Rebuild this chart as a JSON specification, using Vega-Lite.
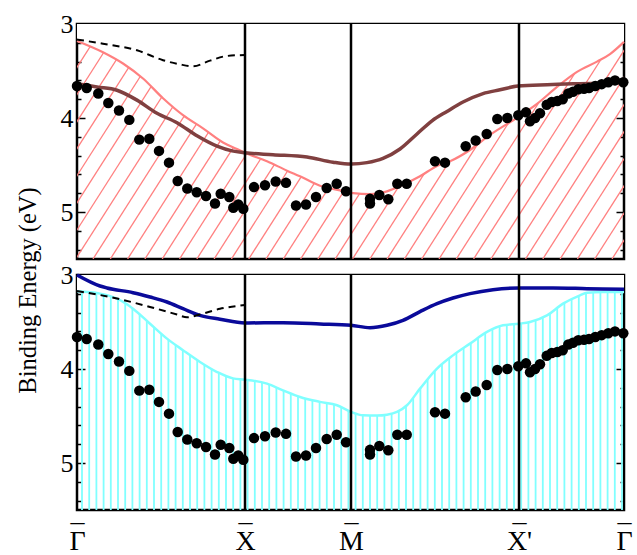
{
  "$schema": "https://vega.github.io/schema/vega-lite/v6.json",
  "background": "white",
  "padding": {"left": 13, "top": 9, "right": 5, "bottom": 0},
  "bounds": "flush",
  "spacing": 16,
  "config": {
    "font": "Liberation Serif",
    "view": {"stroke": "black", "strokeWidth": 2.5},
    "axis": {"labelFont": "Liberation Serif", "titleFont": "Liberation Serif", "labelColor": "black", "tickColor": "black", "domain": false, "grid": false, "zindex": 1, "titleFontWeight": "normal", "titleColor": "black", "labelOverlap": false}
  },
  "data": {"values": [
    {"kind":"dot","x":0,"e":3.66},{"kind":"dot","x":9.7,"e":3.68},{"kind":"dot","x":21.3,"e":3.74},{"kind":"dot","x":31.3,"e":3.84},{"kind":"dot","x":42,"e":3.92},{"kind":"dot","x":52.3,"e":4.02},{"kind":"dot","x":62.3,"e":4.23},{"kind":"dot","x":72.3,"e":4.22},{"kind":"dot","x":82,"e":4.35},{"kind":"dot","x":92,"e":4.475},{"kind":"dot","x":100.7,"e":4.67},{"kind":"dot","x":110.3,"e":4.75},{"kind":"dot","x":119.7,"e":4.79},{"kind":"dot","x":129,"e":4.83},{"kind":"dot","x":138,"e":4.91},{"kind":"dot","x":143.7,"e":4.805},{"kind":"dot","x":152.3,"e":4.84},{"kind":"dot","x":156.3,"e":4.955},{"kind":"dot","x":161.3,"e":4.92},{"kind":"dot","x":166.3,"e":4.965},
    {"kind":"dot","x":177,"e":4.735},{"kind":"dot","x":188,"e":4.715},{"kind":"dot","x":198.7,"e":4.675},{"kind":"dot","x":209,"e":4.69},{"kind":"dot","x":219,"e":4.93},{"kind":"dot","x":229,"e":4.92},{"kind":"dot","x":239,"e":4.84},{"kind":"dot","x":249.7,"e":4.745},{"kind":"dot","x":259.7,"e":4.7},{"kind":"dot","x":269,"e":4.78},
    {"kind":"dot","x":293,"e":4.86},{"kind":"dot","x":293,"e":4.91},{"kind":"dot","x":302.3,"e":4.82},{"kind":"dot","x":311.3,"e":4.865},{"kind":"dot","x":320.3,"e":4.7},{"kind":"dot","x":329.7,"e":4.7},{"kind":"dot","x":358,"e":4.46},{"kind":"dot","x":368,"e":4.475},{"kind":"dot","x":388.7,"e":4.3},{"kind":"dot","x":398.7,"e":4.24},{"kind":"dot","x":409.7,"e":4.17},{"kind":"dot","x":420.3,"e":4.01},{"kind":"dot","x":430.3,"e":4.0},{"kind":"dot","x":441.3,"e":3.97},
    {"kind":"dot","x":449,"e":3.94},{"kind":"dot","x":453,"e":4.035},{"kind":"dot","x":458,"e":4.0},{"kind":"dot","x":463,"e":3.95},{"kind":"dot","x":469.7,"e":3.86},{"kind":"dot","x":474.7,"e":3.83},{"kind":"dot","x":480.3,"e":3.82},{"kind":"dot","x":485.7,"e":3.8},{"kind":"dot","x":491.3,"e":3.74},{"kind":"dot","x":496,"e":3.72},{"kind":"dot","x":501.3,"e":3.695},{"kind":"dot","x":507,"e":3.69},{"kind":"dot","x":512,"e":3.68},{"kind":"dot","x":518.3,"e":3.66},{"kind":"dot","x":524.7,"e":3.64},{"kind":"dot","x":531.3,"e":3.62},{"kind":"dot","x":538,"e":3.6},{"kind":"dot","x":546.3,"e":3.62},
    {"kind":"pink","x":0,"e":3.18},{"kind":"pink","x":26,"e":3.3},{"kind":"pink","x":46,"e":3.42},{"kind":"pink","x":66,"e":3.58},{"kind":"pink","x":86,"e":3.79},{"kind":"pink","x":106,"e":3.97},{"kind":"pink","x":126,"e":4.11},{"kind":"pink","x":146,"e":4.26},{"kind":"pink","x":160,"e":4.33},{"kind":"pink","x":168,"e":4.37},{"kind":"pink","x":190,"e":4.46},{"kind":"pink","x":210,"e":4.56},{"kind":"pink","x":223,"e":4.62},{"kind":"pink","x":243,"e":4.72},{"kind":"pink","x":263,"e":4.77},{"kind":"pink","x":276,"e":4.8},{"kind":"pink","x":293,"e":4.81},{"kind":"pink","x":310,"e":4.78},{"kind":"pink","x":326,"e":4.71},{"kind":"pink","x":343,"e":4.62},{"kind":"pink","x":360,"e":4.51},{"kind":"pink","x":373,"e":4.46},{"kind":"pink","x":393,"e":4.34},{"kind":"pink","x":413,"e":4.18},{"kind":"pink","x":441,"e":3.99},{"kind":"pink","x":460,"e":3.85},{"kind":"pink","x":480,"e":3.67},{"kind":"pink","x":500,"e":3.51},{"kind":"pink","x":520,"e":3.4},{"kind":"pink","x":533,"e":3.32},{"kind":"pink","x":547,"e":3.19},
    {"kind":"brown","x":0,"e":3.635},{"kind":"brown","x":20,"e":3.67},{"kind":"brown","x":40,"e":3.705},{"kind":"brown","x":60,"e":3.81},{"kind":"brown","x":80,"e":3.95},{"kind":"brown","x":100,"e":4.05},{"kind":"brown","x":120,"e":4.19},{"kind":"brown","x":140,"e":4.3},{"kind":"brown","x":155,"e":4.35},{"kind":"brown","x":168,"e":4.37},{"kind":"brown","x":196,"e":4.39},{"kind":"brown","x":230,"e":4.415},{"kind":"brown","x":256,"e":4.47},{"kind":"brown","x":274,"e":4.49},{"kind":"brown","x":290,"e":4.475},{"kind":"brown","x":306,"e":4.43},{"kind":"brown","x":323,"e":4.33},{"kind":"brown","x":340,"e":4.17},{"kind":"brown","x":355,"e":4.03},{"kind":"brown","x":370,"e":3.93},{"kind":"brown","x":386,"e":3.83},{"kind":"brown","x":406,"e":3.74},{"kind":"brown","x":423,"e":3.7},{"kind":"brown","x":441,"e":3.66},{"kind":"brown","x":470,"e":3.645},{"kind":"brown","x":503,"e":3.635},{"kind":"brown","x":547,"e":3.625},
    {"kind":"dashT","x":0,"e":3.165},{"kind":"dashT","x":26,"e":3.21},{"kind":"dashT","x":60,"e":3.28},{"kind":"dashT","x":86,"e":3.385},{"kind":"dashT","x":103,"e":3.43},{"kind":"dashT","x":116,"e":3.45},{"kind":"dashT","x":133,"e":3.39},{"kind":"dashT","x":150,"e":3.34},{"kind":"dashT","x":168,"e":3.33},
    {"kind":"cyan","x":0,"e":3.174},{"kind":"cyan","x":23,"e":3.198},{"kind":"cyan","x":40,"e":3.252},{"kind":"cyan","x":56,"e":3.358},{"kind":"cyan","x":73,"e":3.518},{"kind":"cyan","x":90,"e":3.677},{"kind":"cyan","x":106,"e":3.8},{"kind":"cyan","x":123,"e":3.925},{"kind":"cyan","x":140,"e":4.032},{"kind":"cyan","x":156,"e":4.1},{"kind":"cyan","x":168,"e":4.113},{"kind":"cyan","x":190,"e":4.156},{"kind":"cyan","x":206,"e":4.227},{"kind":"cyan","x":223,"e":4.298},{"kind":"cyan","x":243,"e":4.35},{"kind":"cyan","x":260,"e":4.386},{"kind":"cyan","x":274,"e":4.457},{"kind":"cyan","x":286,"e":4.493},{"kind":"cyan","x":300,"e":4.495},{"kind":"cyan","x":310,"e":4.486},{"kind":"cyan","x":320,"e":4.457},{"kind":"cyan","x":330,"e":4.386},{"kind":"cyan","x":343,"e":4.209},{"kind":"cyan","x":360,"e":3.996},{"kind":"cyan","x":376,"e":3.855},{"kind":"cyan","x":393,"e":3.73},{"kind":"cyan","x":410,"e":3.606},{"kind":"cyan","x":426,"e":3.535},{"kind":"cyan","x":442,"e":3.518},{"kind":"cyan","x":453,"e":3.5},{"kind":"cyan","x":470,"e":3.43},{"kind":"cyan","x":486,"e":3.305},{"kind":"cyan","x":503,"e":3.216},{"kind":"cyan","x":510,"e":3.188},{"kind":"cyan","x":526,"e":3.18},{"kind":"cyan","x":547,"e":3.18},
    {"kind":"blue","x":0,"e":3.0},{"kind":"blue","x":23,"e":3.117},{"kind":"blue","x":30,"e":3.138},{"kind":"blue","x":56,"e":3.188},{"kind":"blue","x":73,"e":3.234},{"kind":"blue","x":90,"e":3.287},{"kind":"blue","x":106,"e":3.358},{"kind":"blue","x":123,"e":3.43},{"kind":"blue","x":143,"e":3.47},{"kind":"blue","x":168,"e":3.51},{"kind":"blue","x":206,"e":3.507},{"kind":"blue","x":243,"e":3.52},{"kind":"blue","x":274,"e":3.535},{"kind":"blue","x":293,"e":3.56},{"kind":"blue","x":310,"e":3.535},{"kind":"blue","x":326,"e":3.482},{"kind":"blue","x":343,"e":3.39},{"kind":"blue","x":360,"e":3.305},{"kind":"blue","x":376,"e":3.245},{"kind":"blue","x":393,"e":3.198},{"kind":"blue","x":416,"e":3.156},{"kind":"blue","x":442,"e":3.138},{"kind":"blue","x":476,"e":3.138},{"kind":"blue","x":510,"e":3.145},{"kind":"blue","x":547,"e":3.152},
    {"kind":"dashB","x":0,"e":3.17},{"kind":"dashB","x":40,"e":3.25},{"kind":"dashB","x":73,"e":3.34},{"kind":"dashB","x":100,"e":3.42},{"kind":"dashB","x":110,"e":3.45},{"kind":"dashB","x":123,"e":3.42},{"kind":"dashB","x":143,"e":3.36},{"kind":"dashB","x":168,"e":3.32},
    {"kind":"sep","x":168},{"kind":"sep","x":274},{"kind":"sep","x":442},
    {"kind":"hatchD","x":-139.7,"x2":10.3},{"kind":"hatchD","x":-122.4,"x2":27.6},{"kind":"hatchD","x":-105.1,"x2":44.9},{"kind":"hatchD","x":-87.8,"x2":62.2},{"kind":"hatchD","x":-70.5,"x2":79.5},{"kind":"hatchD","x":-53.2,"x2":96.8},{"kind":"hatchD","x":-35.9,"x2":114.1},{"kind":"hatchD","x":-18.6,"x2":131.4},{"kind":"hatchD","x":-1.3,"x2":148.7},{"kind":"hatchD","x":16,"x2":166},{"kind":"hatchD","x":33.3,"x2":183.3},{"kind":"hatchD","x":50.6,"x2":200.6},{"kind":"hatchD","x":67.9,"x2":217.9},{"kind":"hatchD","x":85.2,"x2":235.2},{"kind":"hatchD","x":102.5,"x2":252.5},{"kind":"hatchD","x":119.8,"x2":269.8},{"kind":"hatchD","x":137.1,"x2":287.1},{"kind":"hatchD","x":154.4,"x2":304.4},{"kind":"hatchD","x":171.7,"x2":321.7},{"kind":"hatchD","x":189,"x2":339},{"kind":"hatchD","x":206.3,"x2":356.3},{"kind":"hatchD","x":223.6,"x2":373.6},{"kind":"hatchD","x":240.9,"x2":390.9},{"kind":"hatchD","x":258.2,"x2":408.2},{"kind":"hatchD","x":275.5,"x2":425.5},{"kind":"hatchD","x":292.8,"x2":442.8},{"kind":"hatchD","x":310.1,"x2":460.1},{"kind":"hatchD","x":327.4,"x2":477.4},{"kind":"hatchD","x":344.7,"x2":494.7},{"kind":"hatchD","x":362,"x2":512},{"kind":"hatchD","x":379.3,"x2":529.3},{"kind":"hatchD","x":396.6,"x2":546.6},{"kind":"hatchD","x":413.9,"x2":563.9},{"kind":"hatchD","x":431.2,"x2":581.2},{"kind":"hatchD","x":448.5,"x2":598.5},{"kind":"hatchD","x":465.8,"x2":615.8},{"kind":"hatchD","x":483.1,"x2":633.1},{"kind":"hatchD","x":500.4,"x2":650.4},{"kind":"hatchD","x":517.7,"x2":667.7},{"kind":"hatchD","x":535,"x2":685},
    {"kind":"hatchV","x":5},{"kind":"hatchV","x":12.2},{"kind":"hatchV","x":19.4},{"kind":"hatchV","x":26.6},{"kind":"hatchV","x":33.8},{"kind":"hatchV","x":41},{"kind":"hatchV","x":48.2},{"kind":"hatchV","x":55.4},{"kind":"hatchV","x":62.6},{"kind":"hatchV","x":69.8},{"kind":"hatchV","x":77},{"kind":"hatchV","x":84.2},{"kind":"hatchV","x":91.4},{"kind":"hatchV","x":98.6},{"kind":"hatchV","x":105.8},{"kind":"hatchV","x":113},{"kind":"hatchV","x":120.2},{"kind":"hatchV","x":127.4},{"kind":"hatchV","x":134.6},{"kind":"hatchV","x":141.8},{"kind":"hatchV","x":149},{"kind":"hatchV","x":156.2},{"kind":"hatchV","x":163.4},{"kind":"hatchV","x":170.6},{"kind":"hatchV","x":177.8},{"kind":"hatchV","x":185},{"kind":"hatchV","x":192.2},{"kind":"hatchV","x":199.4},{"kind":"hatchV","x":206.6},{"kind":"hatchV","x":213.8},{"kind":"hatchV","x":221},{"kind":"hatchV","x":228.2},{"kind":"hatchV","x":235.4},{"kind":"hatchV","x":242.6},{"kind":"hatchV","x":249.8},{"kind":"hatchV","x":257},{"kind":"hatchV","x":264.2},{"kind":"hatchV","x":271.4},{"kind":"hatchV","x":278.6},{"kind":"hatchV","x":285.8},{"kind":"hatchV","x":293},{"kind":"hatchV","x":300.2},{"kind":"hatchV","x":307.4},{"kind":"hatchV","x":314.6},{"kind":"hatchV","x":321.8},{"kind":"hatchV","x":329},{"kind":"hatchV","x":336.2},{"kind":"hatchV","x":343.4},{"kind":"hatchV","x":350.6},{"kind":"hatchV","x":357.8},{"kind":"hatchV","x":365},{"kind":"hatchV","x":372.2},{"kind":"hatchV","x":379.4},{"kind":"hatchV","x":386.6},{"kind":"hatchV","x":393.8},{"kind":"hatchV","x":401},{"kind":"hatchV","x":408.2},{"kind":"hatchV","x":415.4},{"kind":"hatchV","x":422.6},{"kind":"hatchV","x":429.8},{"kind":"hatchV","x":437},{"kind":"hatchV","x":444.2},{"kind":"hatchV","x":451.4},{"kind":"hatchV","x":458.6},{"kind":"hatchV","x":465.8},{"kind":"hatchV","x":473},{"kind":"hatchV","x":480.2},{"kind":"hatchV","x":487.4},{"kind":"hatchV","x":494.6},{"kind":"hatchV","x":501.8},{"kind":"hatchV","x":509},{"kind":"hatchV","x":516.2},{"kind":"hatchV","x":523.4},{"kind":"hatchV","x":530.6},{"kind":"hatchV","x":537.8},{"kind":"hatchV","x":545}
  ]},
  "vconcat": [
    {
      "width": 547, "height": 235,
      "resolve": {"axis": {"y": "independent"}},
      "layer": [
        {"transform": [{"filter": "datum.kind === 'hatchD'"}],
         "mark": {"type": "rule", "color": "#ff8080", "strokeWidth": 1.3, "clip": true},
         "encoding": {
           "x": {"field": "x", "type": "quantitative", "scale": {"domain": [0, 547], "nice": false, "zero": false}, "axis": null},
           "x2": {"field": "x2"},
           "y": {"datum": 5.5, "type": "quantitative", "scale": {"domain": [3, 5.5], "reverse": true, "nice": false, "zero": false},
                 "axis": {"orient": "left", "title": "Binding Energy (eV)", "titleFontSize": 24.5, "titleX": -49, "titleY": 266, "titleAngle": 270, "titleAlign": "center", "titleBaseline": "middle",
                          "values": [3,3.2,3.4,3.6,3.8,4,4.2,4.4,4.6,4.8,5,5.2,5.4],
                          "labelExpr": "datum.value % 1 === 0 ? format(datum.value, 'd') : ''",
                          "labelFontSize": 26, "labelPadding": 12, "tickSize": {"condition": {"test": "datum.value % 1 === 0", "value": -8}, "value": -4}, "tickWidth": 1.5}},
           "y2": {"datum": 3}
         }},
        {"transform": [{"filter": "datum.kind === 'pink'"}],
         "mark": {"type": "area", "color": "white", "opacity": 1, "interpolate": "monotone"},
         "encoding": {
           "x": {"field": "x", "type": "quantitative", "scale": {"domain": [0, 547], "nice": false, "zero": false}, "axis": null},
           "y": {"field": "e", "type": "quantitative", "scale": {"domain": [3, 5.5], "reverse": true, "nice": false, "zero": false},
                 "axis": {"orient": "right", "title": null, "labels": false, "values": [3,3.2,3.4,3.6,3.8,4,4.2,4.4,4.6,4.8,5,5.2,5.4],
                          "tickSize": {"condition": {"test": "datum.value % 1 === 0", "value": -8}, "value": -4}, "tickWidth": 1.5}},
           "y2": {"datum": 3}
         }},
        {"transform": [{"filter": "datum.kind === 'pink'"}],
         "mark": {"type": "line", "color": "#ff8080", "strokeWidth": 2.2, "interpolate": "monotone"},
         "encoding": {
           "x": {"field": "x", "type": "quantitative", "scale": {"domain": [0, 547], "nice": false, "zero": false}, "axis": null},
           "y": {"field": "e", "type": "quantitative", "scale": {"domain": [3, 5.5], "reverse": true, "nice": false, "zero": false}, "axis": null}
         }},
        {"transform": [{"filter": "datum.kind === 'brown'"}],
         "mark": {"type": "line", "color": "#804040", "strokeWidth": 3.5, "interpolate": "monotone"},
         "encoding": {
           "x": {"field": "x", "type": "quantitative", "scale": {"domain": [0, 547], "nice": false, "zero": false}, "axis": null},
           "y": {"field": "e", "type": "quantitative", "scale": {"domain": [3, 5.5], "reverse": true, "nice": false, "zero": false}, "axis": null}
         }},
        {"transform": [{"filter": "datum.kind === 'dashT'"}],
         "mark": {"type": "line", "color": "black", "strokeWidth": 2, "strokeDash": [7, 5], "interpolate": "monotone"},
         "encoding": {
           "x": {"field": "x", "type": "quantitative", "scale": {"domain": [0, 547], "nice": false, "zero": false}, "axis": null},
           "y": {"field": "e", "type": "quantitative", "scale": {"domain": [3, 5.5], "reverse": true, "nice": false, "zero": false}, "axis": null}
         }},
        {"transform": [{"filter": "datum.kind === 'sep'"}],
         "mark": {"type": "rule", "color": "black", "strokeWidth": 2.5},
         "encoding": {
           "x": {"field": "x", "type": "quantitative", "scale": {"domain": [0, 547], "nice": false, "zero": false}, "axis": null}
         }},
        {"transform": [{"filter": "datum.kind === 'dot'"}],
         "mark": {"type": "circle", "color": "black", "size": 110, "opacity": 1},
         "encoding": {
           "x": {"field": "x", "type": "quantitative", "scale": {"domain": [0, 547], "nice": false, "zero": false}, "axis": null},
           "y": {"field": "e", "type": "quantitative", "scale": {"domain": [3, 5.5], "reverse": true, "nice": false, "zero": false}, "axis": null}
         }}
      ]
    },
    {
      "width": 547, "height": 235,
      "resolve": {"axis": {"y": "independent"}},
      "layer": [
        {"transform": [{"filter": "datum.kind === 'hatchV'"}],
         "mark": {"type": "rule", "color": "#80ffff", "strokeWidth": 1.8},
         "encoding": {
           "x": {"field": "x", "type": "quantitative", "scale": {"domain": [0, 547], "nice": false, "zero": false},
                 "axis": {"title": null, "values": [0, 168, 274, 442, 547],
                          "labelExpr": "datum.value == 168 ? ['_', 'X'] : datum.value == 274 ? ['_', 'M'] : datum.value == 442 ? ['_\u2009', \"X'\"] : ['_', '\u0393']",
                          "ticks": false, "labelFontSize": 28, "labelLineHeight": 29, "labelBaseline": "alphabetic", "labelPadding": 10, "labelFlush": false, "labelOverlap": false, "labelBound": false}}
         }},
        {"transform": [{"filter": "datum.kind === 'cyan'"}],
         "mark": {"type": "area", "color": "white", "opacity": 1, "interpolate": "monotone"},
         "encoding": {
           "x": {"field": "x", "type": "quantitative", "scale": {"domain": [0, 547], "nice": false, "zero": false}},
           "y": {"field": "e", "type": "quantitative", "scale": {"domain": [3, 5.5], "reverse": true, "nice": false, "zero": false},
                 "axis": {"orient": "left", "title": null, "values": [3,3.2,3.4,3.6,3.8,4,4.2,4.4,4.6,4.8,5,5.2,5.4],
                          "labelExpr": "datum.value % 1 === 0 ? format(datum.value, 'd') : ''",
                          "labelFontSize": 26, "labelPadding": 12, "tickSize": {"condition": {"test": "datum.value % 1 === 0", "value": -8}, "value": -4}, "tickWidth": 1.5}},
           "y2": {"datum": 3}
         }},
        {"transform": [{"filter": "datum.kind === 'cyan'"}],
         "mark": {"type": "line", "color": "#80ffff", "strokeWidth": 2.5, "interpolate": "monotone"},
         "encoding": {
           "x": {"field": "x", "type": "quantitative", "scale": {"domain": [0, 547], "nice": false, "zero": false}},
           "y": {"field": "e", "type": "quantitative", "scale": {"domain": [3, 5.5], "reverse": true, "nice": false, "zero": false},
                 "axis": {"orient": "right", "title": null, "labels": false, "values": [3,3.2,3.4,3.6,3.8,4,4.2,4.4,4.6,4.8,5,5.2,5.4],
                          "tickSize": {"condition": {"test": "datum.value % 1 === 0", "value": -8}, "value": -4}, "tickWidth": 1.5}}
         }},
        {"transform": [{"filter": "datum.kind === 'blue'"}],
         "mark": {"type": "line", "color": "#0a0a9a", "strokeWidth": 3.5, "interpolate": "monotone"},
         "encoding": {
           "x": {"field": "x", "type": "quantitative", "scale": {"domain": [0, 547], "nice": false, "zero": false}},
           "y": {"field": "e", "type": "quantitative", "scale": {"domain": [3, 5.5], "reverse": true, "nice": false, "zero": false}, "axis": null}
         }},
        {"transform": [{"filter": "datum.kind === 'dashB'"}],
         "mark": {"type": "line", "color": "black", "strokeWidth": 2, "strokeDash": [7, 5], "interpolate": "monotone"},
         "encoding": {
           "x": {"field": "x", "type": "quantitative", "scale": {"domain": [0, 547], "nice": false, "zero": false}},
           "y": {"field": "e", "type": "quantitative", "scale": {"domain": [3, 5.5], "reverse": true, "nice": false, "zero": false}, "axis": null}
         }},
        {"transform": [{"filter": "datum.kind === 'sep'"}],
         "mark": {"type": "rule", "color": "black", "strokeWidth": 2.5},
         "encoding": {
           "x": {"field": "x", "type": "quantitative", "scale": {"domain": [0, 547], "nice": false, "zero": false}}
         }},
        {"transform": [{"filter": "datum.kind === 'dot'"}],
         "mark": {"type": "circle", "color": "black", "size": 110, "opacity": 1},
         "encoding": {
           "x": {"field": "x", "type": "quantitative", "scale": {"domain": [0, 547], "nice": false, "zero": false}},
           "y": {"field": "e", "type": "quantitative", "scale": {"domain": [3, 5.5], "reverse": true, "nice": false, "zero": false}, "axis": null}
         }}
      ]
    }
  ]
}
